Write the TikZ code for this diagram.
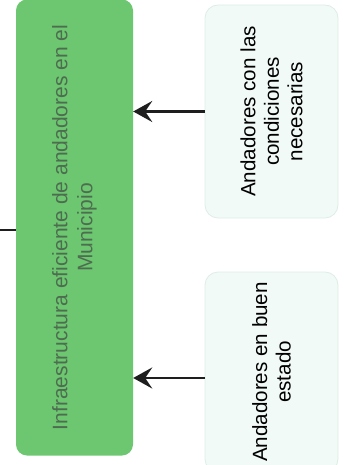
\documentclass[tikz,border=0pt]{standalone}
\usepackage{fontspec}
\setmainfont{Liberation Sans}
\usetikzlibrary{arrows.meta}
\definecolor{mainGreen}{RGB}{108,199,112}
\definecolor{mainText}{RGB}{78,108,80}
\definecolor{mintFill}{RGB}{241,250,246}
\definecolor{mintLine}{RGB}{222,238,230}
\definecolor{arrowInk}{RGB}{30,30,30}
\tikzset{
  mainbox/.style={rotate=90, fill=mainGreen, rounded corners=11pt, align=center,
    text=mainText, font=\fontsize{21}{25}\selectfont, inner sep=0pt},
  sidebox/.style={rotate=90, fill=mintFill, draw=mintLine, line width=0.8pt, rounded corners=13pt,
    align=center, text=black, font=\fontsize{20.6}{23.5}\selectfont, inner sep=0pt,
    minimum height=133pt},
  arrowline/.style={draw=arrowInk, line width=2.5pt,
    -{Stealth[length=19pt,width=21pt,inset=7pt]}},
  plainline/.style={draw=arrowInk, line width=2.2pt}
}
\begin{document}
\begin{tikzpicture}[x=1pt,y=1pt]
\useasboundingbox (0,0) rectangle (344,-465);
\node[mainbox, minimum width=456pt, minimum height=117pt] (goal) at (74.5,-227.5)
  {Infraestructura eficiente de andadores en el\\Municipio};
\node[sidebox, minimum width=213pt] (cond) at (271.5,-111.5)
  {Andadores con las\\condiciones\\necesarias};
\node[sidebox, minimum width=200pt] (good) at (271.5,-372)
  {Andadores en buen\\estado};
\coordinate (leftend) at (0,-230);
\coordinate (goodtail) at (205,-378);
\draw[plainline] (leftend) -- (leftend -| goal.north);
\draw[arrowline] (cond.north) -- (cond.north -| goal.south);
\draw[arrowline] (goodtail) -- (goodtail -| goal.south);
\end{tikzpicture}
\end{document}
